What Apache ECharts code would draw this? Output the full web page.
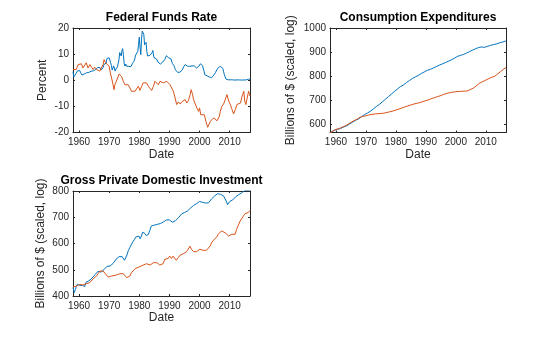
<!DOCTYPE html>
<html><head><meta charset="utf-8">
<script src="https://cdn.jsdelivr.net/npm/echarts@6/dist/echarts.min.js"></script>
<style>html,body{margin:0;padding:0;background:#fff}#c{width:560px;height:337px}</style>
</head><body><div id="c"></div>
<script>
// ---------- tick labels ----------
const xTicks = [1960, 1970, 1980, 1990, 2000, 2010];
const fedTicks = [-20, -10, 0, 10, 20];
const consTicks = [600, 700, 800, 900, 1000];
const invTicks = [400, 500, 600, 700, 800];
const titles = ['Federal Funds Rate', 'Consumption Expenditures', 'Gross Private Domestic Investment'];

// ---------- Federal funds rate (quarterly, from 1958 Q1) ----------
const fedStartYear = 1958;
const fedRate = [
 3.3,1.3,0.9,2.0, 2.6,3.1,3.6,4.0, 3.9,3.7,2.9,2.3, 2.0,1.7,1.7,2.4,
 2.5,2.6,2.85,2.9, 3.0,3.0,3.3,3.45, 3.46,3.5,3.46,3.6, 4.0,4.1,4.1,4.2,
 4.6,4.9,5.4,5.6, 4.8,4.0,3.9,4.2, 4.8,6.0,5.9,5.9, 6.6,8.3,9.0,8.9,
 8.6,7.9,6.7,5.6, 3.9,4.6,5.5,4.75, 3.5,4.3,4.7,5.1, 6.5,7.8,10.6,10.0,
 9.3,11.3,12.1,9.4, 6.3,5.4,6.2,5.4, 4.8,5.2,5.3,4.9, 4.7,5.2,5.8,6.5,
 6.8,7.3,8.1,9.6, 10.1,10.2,11.0,13.6, 16.5,12.7,9.8,15.9, 18.8,19.1,17.6,13.6,
 14.2,14.5,11.0,9.3, 8.65,8.8,9.5,9.4, 9.7,10.6,11.4,9.3, 8.5,7.9,7.9,8.1,
 7.8,6.9,6.2,6.3, 6.2,6.7,6.8,6.9, 6.7,7.2,8.0,8.5, 9.4,9.7,9.1,8.6,
 8.25,8.2,8.2,7.7, 6.4,5.9,5.6,4.8, 4.0,3.8,3.3,3.0, 3.0,3.0,3.1,3.0,
 3.2,3.9,4.5,5.2, 5.8,6.0,5.8,5.7, 5.4,5.2,5.3,5.3, 5.3,5.5,5.5,5.5,
 5.5,5.5,5.5,4.9, 4.7,4.75,5.1,5.3, 5.7,6.3,6.5,6.5, 5.6,4.3,3.5,2.1,
 1.7,1.75,1.7,1.4, 1.25,1.25,1.0,1.0, 1.0,1.0,1.4,1.95, 2.5,2.9,3.5,4.0,
 4.5,4.9,5.25,5.25, 5.26,5.25,5.1,4.5, 3.2,2.1,1.9,0.5, 0.18,0.18,0.16,0.12,
 0.13,0.19,0.19,0.19, 0.16,0.09,0.08,0.07, 0.10,0.15,0.14,0.16, 0.14,0.12,0.08,0.09,
 0.07,0.09,0.09,0.10, 0.11,0.13,0.14,0.16, 0.36,0.37,0.40,0.45
];
const fedAltYears = [1958.0,1958.6,1959.1,1959.7,1960.2,1960.8,1961.3,1961.9,1962.4,1963.0,
 1963.6,1964.1,1964.7,1965.2,1965.8,1966.3,1966.9,1967.4,1968.0,1968.3,
 1968.8,1969.1,1969.4,1970.0,1970.4,1970.8,1971.3,1971.6,1971.9,1972.4,
 1973.0,1973.3,1973.6,1974.1,1974.7,1975.2,1975.8,1976.3,1976.9,1977.4,
 1978.0,1978.6,1979.1,1979.7,1980.2,1980.8,1981.3,1981.9,1982.4,1983.0,
 1983.6,1984.1,1984.7,1985.2,1985.8,1986.3,1986.9,1987.4,1988.0,1988.6,
 1989.1,1989.7,1990.2,1990.8,1991.3,1991.9,1992.4,1993.0,1993.6,1994.1,
 1994.7,1995.2,1995.8,1996.3,1996.9,1997.2,1997.7,1998.0,1998.6,1999.1,
 1999.7,2000.0,2000.4,2001.0,2001.6,2002.1,2002.7,2003.2,2003.6,2004.1,
 2004.7,2005.2,2005.8,2006.1,2006.6,2006.9,2007.4,2008.0,2008.6,2009.1,
 2009.7,2010.2,2010.8,2011.3,2011.9,2012.4,2013.0,2013.6,2014.1,2014.7,
 2015.0,2015.4,2015.8,2016.3,2016.6,2016.75];
const fedAlt = [4.1,4.5,4.1,6.0,5.4,6.3,4.7,5.4,6.7,4.7,
 6.0,6.7,4.1,5.0,4.1,4.7,3.5,4.7,6.0,7.9,
 6.7,7.3,6.0,5.4,2.8,0.9,-1.7,-3.6,-1.7,-0.4,
 1.5,2.4,2.8,1.5,-0.4,-1.7,-2.3,-1.7,-2.9,-4.2,
 -3.6,-4.2,-3.9,-2.3,-3.9,-2.3,-1.0,-1.7,-1.0,-2.3,
 -2.3,-3.9,-2.3,-0.4,0.3,-1.7,-0.4,-1.0,-1.0,-1.7,
 -0.4,0.3,-1.7,-2.3,-4.2,-6.8,-9.3,-8.3,-9.1,-8.3,
 -8.7,-7.4,-8.7,-7.8,-5.5,-3.6,-5.5,-7.4,-8.0,-10.6,
 -11.9,-10.6,-13.2,-13.8,-13.2,-15.7,-18.0,-17.6,-15.7,-15.1,
 -14.4,-13.8,-15.5,-16.0,-13.8,-11.9,-10.0,-9.1,-8.7,-5.5,
 -8.0,-9.3,-11.2,-12.9,-11.2,-9.3,-10.0,-8.7,-6.2,-4.2,
 -8.0,-9.3,-6.8,-4.2,-5.5,-6.1];

// ---------- Consumption expenditures ----------
const consYears = [1958,1958.5,1959.5,1960.5,1961.5,1962.5,1963.5,1964.5,1965.5,1966.5,1967.5,
 1968.5,1969.5,1970.5,1971.5,1972.5,1973.5,1974.5,1975.5,1976.5,1977.5,
 1978.5,1979.5,1980.5,1981.5,1982.5,1983.5,1984.5,1985.5,1986.5,1987.5,
 1988.5,1989.5,1990.5,1991.5,1992.5,1993.5,1994.5,1995.5,1996.5,1997.5,
 1998.5,1999.5,2000.5,2001.5,2002.5,2003.5,2004.5,2005.5,2006.5,2007.5,
 2008.5,2009.5,2010.5,2011.5,2012.5,2013.5,2014.5,2015.5,2016.5,2016.75];
const consBlue = [566,569.0,576.2,580.2,583.5,589.4,594.5,601.9,609.4,617.4,622.9,
 632.4,640.5,647.5,655.4,664.6,674.8,683.8,694.1,704.9,715.4,
 726.5,737.3,747.0,756.9,763.7,773.5,782.3,790.9,797.2,803.6,
 811.6,818.1,824.9,828.4,834.5,840.3,846.1,851.2,856.7,862.1,
 867.9,874.6,882.0,886.4,890.2,895.4,901.6,907.9,913.5,918.5,
 921.5,919.9,923.6,927.8,931.0,933.8,938.1,941.6,945.3,947];
const consAltYears = [1958,1959,1960,1961,1962,1963,1964,1965,1966,1967,1968,
 1969,1970,1971,1972,1973,1974,1975,1976,1977,1978,
 1979,1980,1981,1982,1983,1984,1985,1986,1987,1988,
 1989,1990,1991,1992,1993,1994,1995,1996,1997,1998,
 1999,2000,2001,2002,2003,2004,2005,2006,2007,2008,
 2009,2010,2011,2012,2013,2014,2015,2016,2016.75];
const consAlt = [566,573,580,583,589,594,601,609,616,622,630,
 634,636,640,642,644,645,646,647,650,653,
 656,660,664,669,673,677,681,685,688,691,
 695,699,703,708,712,716,720,725,729,732,
 734,736,737,738,738,740,746,752,762,772,
 778,784,790,796,800,810,820,830,836];

// ---------- Gross private domestic investment ----------
const invYears = [1958.0,1958.4,1958.8,1959.1,1959.5,1960.0,1960.4,1960.8,1961.2,1961.6,
 1961.9,1962.3,1962.8,1963.3,1963.8,1964.3,1964.8,1965.3,1965.8,1966.3,
 1966.8,1967.3,1967.8,1968.3,1968.8,1969.3,1969.8,1970.3,1970.8,1971.3,
 1971.8,1972.3,1972.8,1973.3,1973.8,1974.3,1974.8,1975.1,1975.5,1975.9,
 1976.4,1976.9,1977.4,1977.9,1978.4,1978.9,1979.4,1979.9,1980.3,1980.7,
 1981.1,1981.5,1981.9,1982.3,1982.7,1983.0,1983.5,1984.0,1984.5,1985.0,
 1985.5,1986.0,1986.5,1987.0,1987.5,1988.0,1988.5,1989.0,1989.5,1990.0,
 1990.5,1991.0,1991.5,1992.0,1992.5,1993.0,1993.5,1994.0,1994.5,1995.0,
 1995.5,1996.0,1996.5,1997.0,1997.5,1998.0,1998.5,1999.0,1999.5,2000.0,
 2000.5,2001.0,2001.5,2002.0,2002.5,2003.0,2003.5,2004.0,2004.5,2005.0,
 2005.5,2006.0,2006.5,2007.0,2007.5,2008.0,2008.5,2009.0,2009.3,2009.7,
 2010.0,2010.5,2011.0,2011.5,2012.0,2012.5,2013.0,2013.5,2014.0,2014.5,
 2015.0,2015.5,2016.0,2016.5,2016.75];
const invBlue = [432,413,425,436,445,448,440,436,440,444,
 436,452,455,458,463,468,472,481,487,494,
 497,491,495,501,506,513,516,514,511,524,
 530,540,546,550,552,550,545,536,540,556,
 574,585,597,607,616,625,630,628,618,628,
 643,647,638,630,624,634,650,667,672,670,
 673,673,672,676,680,682,686,690,692,690,
 690,681,683,687,691,698,703,712,717,718,
 717,724,730,735,740,745,748,752,756,760,
 763,757,752,754,754,755,760,770,776,781,
 786,790,790,787,788,781,774,758,748,750,
 760,765,766,770,778,782,786,790,793,798,
 802,803,802,800,803];
const invAltYears = [1958.0,1958.6,1959.1,1959.6,1960.2,1960.8,1961.3,1961.9,1962.4,1962.9,
 1963.6,1964.1,1964.7,1965.2,1965.8,1966.3,1966.9,1967.4,1968.0,1968.5,
 1969.1,1969.7,1970.2,1970.8,1971.3,1972.4,1973.0,1973.6,1974.1,1974.7,
 1975.2,1975.8,1976.3,1976.9,1977.4,1978.0,1978.6,1979.1,1980.2,1981.3,
 1982.4,1983.0,1983.6,1984.2,1984.7,1985.3,1985.8,1986.3,1986.8,1987.3,
 1987.9,1988.5,1989.0,1989.6,1990.1,1990.7,1991.2,1991.7,1992.3,1992.9,
 1993.5,1994.0,1994.6,1995.1,1995.7,1996.2,1996.8,1997.3,1998.0,1998.5,
 1999.0,1999.6,2000.1,2000.7,2001.2,2001.8,2002.3,2002.9,2003.5,2004.0,
 2004.6,2005.1,2005.7,2006.2,2006.8,2007.3,2007.9,2008.5,2009.0,2009.6,
 2010.1,2010.7,2011.2,2011.8,2012.3,2012.9,2013.5,2014.0,2014.6,2015.1,
 2015.7,2016.2,2016.5,2016.75];
const invAlt = [434,432,438,434,444,438,442,438,447,453,
 451,457,466,472,476,485,495,498,495,489,
 480,472,472,476,479,480,483,485,483,485,
 480,470,467,476,489,495,504,508,512,518,
 523,521,518,524,527,525,527,521,518,514,
 523,540,546,543,552,543,552,546,536,546,
 555,559,561,559,569,578,590,578,569,571,
 569,571,578,574,574,578,574,571,590,603,
 612,616,625,635,641,648,650,641,637,629,
 629,635,629,635,654,670,686,692,705,714,
 721,718,712,726];

// ---------- build chart ----------
const F = '"Liberation Sans", Arial, Helvetica, sans-serif';
const INK = '#262626';
const BLUE = '#0072BD', ORANGE = '#D95319';
const XMIN = 1958, XMAX = 2016.75;
const fedYears = fedRate.map((_, i) => fedStartYear + i * 0.25);
const pairs = (xs, ys) => xs.map((x, i) => [x, ys[i]]);

const grids = [
  {left: 73, top: 28, width: 177, height: 104.5},
  {left: 330, top: 28, width: 176, height: 104.5},
  {left: 73, top: 191, width: 177, height: 105}
];
const yCfg = [
  {min: -20, max: 20, ticks: fedTicks, name: 'Percent', gap: 24},
  {min: 567, max: 1000, ticks: consTicks, name: 'Billions of $ (scaled, log)', gap: 33},
  {min: 400, max: 800, ticks: invTicks, name: 'Billions of $ (scaled, log)', gap: 26}
];
const lineSt = {color: INK, width: 1};
const xAxis = [], yAxis = [];
grids.forEach((g, gi) => {
  xAxis.push({type: 'value', gridIndex: gi, position: 'bottom', min: XMIN, max: XMAX,
    axisLine: {show: true, onZero: false, lineStyle: lineSt},
    axisTick: {show: true, inside: true, length: 2, customValues: xTicks, lineStyle: lineSt},
    axisLabel: {show: true, customValues: xTicks, margin: 5, fontSize: 10, color: INK, fontFamily: F, formatter: v => String(v)},
    splitLine: {show: false},
    name: 'Date', nameLocation: 'middle', nameGap: 16,
    nameTextStyle: {fontSize: 12, color: INK, fontFamily: F}});
  xAxis.push({type: 'value', gridIndex: gi, position: 'top', min: XMIN, max: XMAX,
    axisLine: {show: true, onZero: false, lineStyle: lineSt},
    axisTick: {show: true, inside: true, length: 2, customValues: xTicks, lineStyle: lineSt},
    axisLabel: {show: false}, splitLine: {show: false}});
  const c = yCfg[gi];
  yAxis.push({type: 'value', gridIndex: gi, position: 'left', min: c.min, max: c.max,
    axisLine: {show: true, onZero: false, lineStyle: lineSt},
    axisTick: {show: true, inside: true, length: 2, customValues: c.ticks, lineStyle: lineSt},
    axisLabel: {show: true, customValues: c.ticks, margin: 4, fontSize: 10, color: INK, fontFamily: F, formatter: v => String(v)},
    splitLine: {show: false},
    name: c.name, nameLocation: 'middle', nameGap: c.gap,
    nameTextStyle: {fontSize: 12, color: INK, fontFamily: F}});
  yAxis.push({type: 'value', gridIndex: gi, position: 'right', min: c.min, max: c.max,
    axisLine: {show: true, onZero: false, lineStyle: lineSt},
    axisTick: {show: true, inside: true, length: 2, customValues: c.ticks, lineStyle: lineSt},
    axisLabel: {show: false}, splitLine: {show: false}});
});

const mkSeries = (gi, data, color) => ({type: 'line', xAxisIndex: gi * 2, yAxisIndex: gi * 2,
  data, showSymbol: false, symbol: 'none', lineStyle: {color, width: 1}, itemStyle: {color},
  clip: true, silent: true});

const titleCenters = [[161.5, 12], [418, 12], [161.5, 174.5]];
const option = {
  animation: false,
  backgroundColor: '#ffffff',
  title: titles.map((t, i) => ({text: t, left: titleCenters[i][0], top: titleCenters[i][1],
    textAlign: 'center', padding: 0,
    textStyle: {fontSize: 12, fontWeight: 'bold', color: '#000', fontFamily: F}})),
  grid: grids,
  xAxis, yAxis,
  series: [
    mkSeries(0, pairs(fedYears, fedRate), BLUE),
    mkSeries(0, pairs(fedAltYears, fedAlt), ORANGE),
    mkSeries(1, pairs(consYears, consBlue), BLUE),
    mkSeries(1, pairs(consAltYears, consAlt), ORANGE),
    mkSeries(2, pairs(invYears, invBlue), BLUE),
    mkSeries(2, pairs(invAltYears, invAlt), ORANGE)
  ]
};
const chart = echarts.init(document.getElementById('c'), null, {renderer: 'canvas'});
chart.setOption(option);
</script>
</body></html>
